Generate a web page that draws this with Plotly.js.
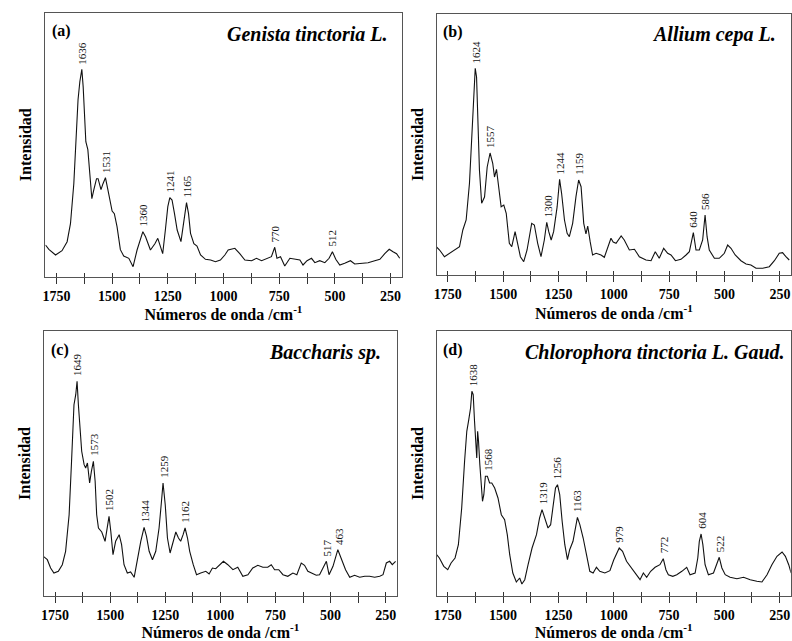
<!DOCTYPE html>
<html>
<head>
<meta charset="utf-8">
<script src="https://cdn.plot.ly/plotly-3.0.1.min.js"></script>
<style>html,body{margin:0;padding:0;background:#fff;}#chart{width:792px;height:641px;}</style>
</head>
<body>
<div id="chart"></div>
<script>
// ---------- DATA ----------
const panelLetters = ['(a)', '(b)', '(c)', '(d)'];
const speciesNames = ['Genista tinctoria L.', 'Allium cepa L.', 'Baccharis sp.', 'Chlorophora tinctoria L. Gaud.'];
const xTickVals = [1750, 1500, 1250, 1000, 750, 500, 250];
const xTitle = 'Números de onda /cm<sup>-1</sup>';
const yTitle = 'Intensidad';

// (a) Genista tinctoria L.
const wnA = [1799,1784,1754,1725,1702,1687,1672,1662,1653,1645,
  1636,1630,1624,1618,1609,1602,1591,1582,1570,1563,
  1550,1541,1530,1520,1508,1500,1490,1478,1463,1448,
  1425,1406,1388,1362,1350,1328,1308,1295,1283,1273,
  1261,1250,1241,1231,1220,1208,1191,1178,1166,1157,
  1148,1133,1119,1103,1081,1058,1036,1014,994,979,
  949,927,904,874,852,829,807,785,770,760,
  744,725,702,680,657,643,625,605,590,568,
  545,526,511,496,478,456,430,411,380,351,
  321,298,276,256,239,223,209];
const intA = [31.7,27.4,21.7,26,35,53,93,140,177,195,
  207.4,190,160,135,127,110,78,87,98,98,
  87,93,99,88,73,65.7,63,50,27,20.7,
  18.4,10,26.7,45,40,26.7,33,38.4,30,23,
  46.7,70,79,76.7,63,46.7,35,53,74,63,
  43.4,33,30.7,21.7,17.4,16.7,15,16.7,21.7,26.7,
  28.4,23,16.7,16,18.4,16,18.4,20,29.4,18.4,
  20,10.7,18.4,17.4,16.7,11.7,16,18.4,14,16,
  14,18.4,25,17.4,11.7,13.4,16,12.7,13.4,14,
  16,17.4,23,27.4,25,23,18.4];
const peaksA = [1636, 1531, 1360, 1241, 1165, 770, 512];

// (b) Allium cepa L.
const wnB = [1802,1787,1765,1742,1720,1697,1682,1667,1652,1642,
  1633,1626,1620,1615,1607,1597,1584,1572,1559,1547,
  1539,1530,1521,1509,1497,1486,1472,1461,1446,1434,
  1422,1407,1392,1371,1359,1344,1329,1314,1303,1294,
  1283,1272,1256,1245,1236,1223,1211,1201,1186,1171,
  1159,1148,1136,1126,1118,1107,1096,1080,1058,1043,
  1028,1013,1003,990,967,953,930,907,885,855,
  832,813,795,775,757,742,722,697,674,659,
  641,629,614,599,588,579,569,546,524,501,
  486,471,452,426,403,381,358,328,298,275,
  253,238,223,208];
const intB = [28.3,25,18.3,21.7,25,28.3,45,55,91.7,138,
  188,206.7,198,158,105,71.7,78,108,122,111.7,
  98,105.7,91.7,68.3,70,61.7,31.7,28.3,43.3,31.7,
  18.3,13.3,25,51.7,50,31.7,18.3,35,52.7,43.3,
  35,43.3,68.3,95.7,81.7,55,41.7,38.3,51.7,78.3,
  95,88.3,51.7,41,49,33.3,20,21.7,20,17.7,
  26.7,36.7,33,31.7,39,35,25,25.7,18.3,15,
  14.3,23.3,16.7,26.7,21.7,20,14.3,15.7,20,23.3,
  42.3,25,25,35,60,38.3,25,16.7,16.7,21.7,
  30,26.7,20,14.3,11,10,6.7,6.7,8.3,14.3,
  21.7,22.3,18.3,15];
const peaksB = [1624, 1557, 1300, 1244, 1159, 640, 586];

// (c) Baccharis sp.
const wnC = [1803,1785,1770,1755,1735,1717,1702,1686,1675,1664,
  1656,1650,1644,1638,1629,1618,1611,1603,1593,1585,
  1576,1568,1561,1553,1538,1523,1512,1505,1497,1487,
  1475,1459,1448,1437,1422,1407,1391,1376,1361,1346,
  1335,1323,1308,1293,1278,1267,1260,1250,1240,1228,
  1214,1202,1190,1180,1169,1160,1149,1139,1123,1108,
  1089,1066,1051,1036,1021,1003,986,966,943,921,
  898,875,853,830,807,785,769,754,735,716,
  694,671,653,633,618,603,583,565,550,532,
  519,507,489,467,451,432,413,391,368,345,
  323,300,277,262,247,232,220,205];
const intC = [39.7,36.3,28,23,24.7,31.3,44.7,81.3,134.7,191.3,
  201.3,214.7,191.3,168,144.7,131.3,128,133,113,124.7,
  134.7,114.7,81.3,68,64,54.7,68,79.7,64.7,41.3,
  54.7,61.3,51.3,31.3,23,24,18.7,38,54.7,68.7,
  59.7,44.7,36.3,44.7,68,94.7,113,91.3,58,43,
  54.7,64,58,54.7,61.3,68,58,44.7,31.3,21.3,
  23,24.7,22,28,27.3,31.3,34.7,31.3,26.3,28.7,
  19.7,21.3,28,30.7,28.7,28.7,31.3,26.3,26.3,21.3,
  19.7,23,21.3,33,30.7,24.7,23,20.7,21.3,29.7,
  34.7,21.3,29.7,46.3,38,26.3,18.7,20.7,18.7,19.7,
  19.7,18.7,19.7,21.3,33,34.7,31.3,34.7];
const peaksC = [1649, 1573, 1502, 1344, 1259, 1162, 517, 463];

// (d) Chlorophora tinctoria L. Gaud.
const wnD = [1806,1788,1768,1750,1735,1717,1702,1687,1674,1664,
  1655,1647,1641,1635,1629,1623,1619,1615,1611,1605,
  1599,1593,1587,1580,1571,1561,1551,1538,1523,1508,
  1493,1481,1470,1456,1440,1425,1415,1402,1387,1369,
  1349,1335,1324,1312,1297,1285,1274,1263,1254,1244,
  1233,1221,1209,1199,1184,1173,1164,1153,1138,1123,
  1108,1093,1078,1063,1040,1017,1000,975,960,942,
  919,896,881,866,851,833,813,791,776,764,
  753,733,715,692,670,655,632,620,613,605,
  597,587,572,549,534,523,511,496,474,443,
  413,383,353,330,307,285,262,239,224,209,
  198];
const intD = [43,38,29.7,26.3,33,38,51.3,88,134.7,164.7,
  176.3,188,204.7,201.3,174.7,151.3,138,164.7,154.7,131.3,
  108,94.7,101.3,119.7,119.7,113,113,108,98,81.3,
  76.3,61.3,41.3,23,14,18,12,16.3,31.3,48,
  61.3,78,86.3,78,68,71.3,91.3,108,111.3,101.3,
  74.7,51.3,36.3,46.3,54.7,69.7,78.7,71.3,58,41.3,
  24.7,23,28.7,24.7,23,25.3,36,48,44.7,34.7,
  28,21.3,16.3,23,18.7,24.7,28.7,31.3,37.3,26.3,
  21.3,19.7,21.3,24.7,28.7,21.3,23,38,54.7,62,
  51.3,31.3,21.3,23,31.3,38.7,28,21.3,18.7,17.3,
  18.7,16.3,14.7,14,21.3,31.3,39.7,44,39.7,31.3,
  23];
const peaksD = [1638, 1568, 1319, 1256, 1163, 979, 772, 604, 522];

// ---------- LAYOUT / STYLE ----------
const FONT = 'Liberation Serif, Times New Roman, serif';
const W = 792, H = 641;
// panel boxes in pixels [left, right, top, bottom]
const boxes = [
  [45.3, 401.7, 12.7, 276.7],
  [436.7, 791, 14, 275],
  [44, 396.7, 331, 596],
  [436.7, 790.7, 331, 596]
];
const speciesRightPad = [12, 13, 14, 4];

const panels = [
  {wn: wnA, y: intA, peaks: peaksA},
  {wn: wnB, y: intB, peaks: peaksB},
  {wn: wnC, y: intC, peaks: peaksC},
  {wn: wnD, y: intD, peaks: peaksD}
];

const traces = [];
const layout = {
  width: W, height: H,
  margin: {l: 0, r: 0, t: 0, b: 0},
  paper_bgcolor: '#fff', plot_bgcolor: '#fff',
  showlegend: false,
  font: {family: FONT, color: '#000'},
  annotations: []
};

function peakHeight(wn, y, p) {
  let best = -Infinity;
  for (let i = 0; i < wn.length; i++) {
    if (Math.abs(wn[i] - p) <= 10 && y[i] > best) best = y[i];
  }
  return best;
}

panels.forEach((pn, k) => {
  const n = k + 1;
  const sx = n === 1 ? '' : String(n);
  const b = boxes[k];
  const xd = [b[0] / W, b[1] / W];
  const yd = [1 - b[3] / H, 1 - b[2] / H];
  const yTop = b[3] - b[2];

  traces.push({
    type: 'scatter', mode: 'lines',
    x: pn.wn, y: pn.y,
    xaxis: 'x' + sx, yaxis: 'y' + sx,
    line: {color: '#111', width: 1.1},
    hoverinfo: 'skip'
  });

  layout['xaxis' + sx] = {
    domain: xd, anchor: 'y' + sx,
    range: [1800, 200], autorange: false,
    tickmode: 'array', tickvals: xTickVals,
    ticks: 'outside', ticklen: 6, tickwidth: 1, tickcolor: '#333',
    minor: {tickmode: 'linear', tick0: 125, dtick: 125, ticks: 'outside', ticklen: 6, tickwidth: 1, tickcolor: '#333'},
    showline: true, linecolor: '#555', linewidth: 1, mirror: true,
    showgrid: false, zeroline: false,
    tickfont: {family: FONT, size: 14, weight: 700, color: '#000'},
    title: {text: xTitle, font: {family: FONT, size: 16, weight: 700, color: '#000'}, standoff: 3},
    automargin: false
  };
  // overlay axis so that ticks cross the bottom axis line (inner part)
  layout['xaxis' + (n + 4)] = {
    overlaying: 'x' + sx, anchor: 'y' + sx, side: 'bottom',
    range: [1800, 200], autorange: false,
    tickmode: 'array', tickvals: xTickVals,
    ticks: 'inside', ticklen: 4, tickwidth: 1, tickcolor: '#333',
    minor: {tickmode: 'linear', tick0: 125, dtick: 125, ticks: 'inside', ticklen: 4, tickwidth: 1, tickcolor: '#333'},
    showticklabels: false, showline: false, showgrid: false, zeroline: false
  };
  traces.push({type: 'scatter', mode: 'lines', x: [], y: [], xaxis: 'x' + (n + 4), yaxis: 'y' + sx, hoverinfo: 'skip'});

  layout['yaxis' + sx] = {
    domain: yd, anchor: 'x' + sx,
    range: [0, yTop], autorange: false,
    showticklabels: false, ticks: '',
    showline: true, linecolor: '#555', linewidth: 1, mirror: true,
    showgrid: false, zeroline: false,
    title: {text: yTitle, font: {family: FONT, size: 16, weight: 700, color: '#000'}, standoff: 8},
    automargin: false
  };

  // panel letter
  layout.annotations.push({
    xref: 'x' + sx + ' domain', yref: 'y' + sx + ' domain',
    x: 4.5 / (b[1] - b[0]), y: 1 - 18.5 / yTop,
    xanchor: 'left', yanchor: 'middle', showarrow: false,
    text: panelLetters[k],
    font: {family: FONT, size: 16, weight: 700, color: '#000'}
  });
  // species name
  layout.annotations.push({
    xref: 'x' + sx + ' domain', yref: 'y' + sx + ' domain',
    x: 1 - speciesRightPad[k] / (b[1] - b[0]), y: 1 - 21 / yTop,
    xanchor: 'right', yanchor: 'middle', showarrow: false,
    text: speciesNames[k],
    font: {family: FONT, size: 20, weight: 700, style: 'italic', color: '#000'}
  });
  // peak labels
  pn.peaks.forEach(p => {
    layout.annotations.push({
      xref: 'x' + sx, yref: 'y' + sx,
      x: p, y: peakHeight(pn.wn, pn.y, p),
      text: String(p), textangle: -90,
      xanchor: 'center', yanchor: 'bottom', yshift: 3,
      showarrow: false,
      font: {family: FONT, size: 11, color: '#111'}
    });
  });
});

Plotly.newPlot('chart', traces, layout, {staticPlot: true, displayModeBar: false});
</script>
</body>
</html>
